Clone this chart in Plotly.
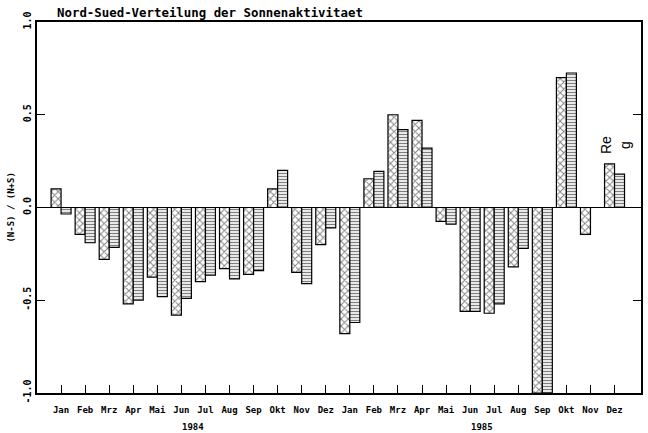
import plotly.graph_objects as go

# Monthly north-south asymmetry index (N-S)/(N+S), Jan 1984 .. Dec 1985
months = ["Jan", "Feb", "Mrz", "Apr", "Mai", "Jun", "Jul", "Aug", "Sep", "Okt", "Nov", "Dez"]
years = ["1984", "1985"]
month_labels = months + months

series_a = [0.10, -0.145, -0.28, -0.52, -0.375, -0.58, -0.40, -0.33, -0.36, 0.10, -0.35, -0.20,
            -0.68, 0.155, 0.50, 0.47, -0.075, -0.56, -0.57, -0.32, -1.0, 0.70, -0.145, 0.235]
series_b = [-0.035, -0.19, -0.215, -0.50, -0.48, -0.49, -0.365, -0.385, -0.34, 0.20, -0.41, -0.11,
            -0.62, 0.195, 0.42, 0.32, -0.09, -0.56, -0.52, -0.22, -1.0, 0.725, None, 0.18]

y_ticks = [-1.0, -0.5, 0.0, 0.5, 1.0]
y_ticktext = ["-1.0", "-0.5", "0.0", "0.5", "1.0"]

x_idx = list(range(len(month_labels)))

mono = dict(family="DejaVu Sans Mono", color="black", weight="bold")

fig = go.Figure()
fig.add_trace(go.Bar(
    x=x_idx, y=series_a, name="Serie 1",
    marker=dict(color="white", line=dict(color="black", width=1.2),
                pattern=dict(shape="x", fgcolor="black", bgcolor="white", size=5, solidity=0.35)),
))
fig.add_trace(go.Bar(
    x=x_idx, y=series_b, name="Serie 2",
    marker=dict(color="white", line=dict(color="black", width=1.2),
                pattern=dict(shape="-", fgcolor="black", bgcolor="white", size=3, solidity=0.45)),
))

fig.update_layout(
    width=648, height=433,
    margin=dict(l=37, r=5, t=22, b=40),
    paper_bgcolor="white", plot_bgcolor="white",
    barmode="group", bargap=0.17, bargroupgap=0.0,
    showlegend=False,
    xaxis=dict(
        range=[-1, 24.1],
        tickmode="array", tickvals=x_idx, ticktext=month_labels,
        ticks="inside", ticklen=8, tickwidth=1.2, tickcolor="black",
        showline=True, linecolor="black", linewidth=1.5, mirror=True,
        showgrid=False, zeroline=False,
        tickfont=dict(size=9, **mono),
        tickangle=0,
        ticklabelstandoff=7,
    ),
    yaxis=dict(
        range=[-1.0, 1.0],
        tickmode="array", tickvals=y_ticks, ticktext=y_ticktext,
        ticks="inside", ticklen=8, tickwidth=1.2, tickcolor="black",
        showline=True, linecolor="black", linewidth=1.5, mirror="ticks",
        showgrid=False,
        zeroline=True, zerolinecolor="black", zerolinewidth=1.2,
        tickangle=-90,
        tickfont=dict(size=10, **mono),
    ),
)

# title
fig.add_annotation(
    text="Nord-Sued-Verteilung der Sonnenaktivitaet",
    xref="paper", yref="paper", x=(55 - 37) / 606, y=1.0, yshift=10,
    xanchor="left", yanchor="middle", showarrow=False,
    font=dict(size=12.4, **mono),
)

# y-axis label
fig.add_annotation(
    text="(N-S) / (N+S)",
    xref="paper", yref="y", x=(10 - 37) / 606, y=0.0,
    xanchor="center", yanchor="middle", textangle=-90, showarrow=False,
    font=dict(size=9, **mono),
)

# year labels under each block of months
for i, yr in enumerate(years):
    fig.add_annotation(
        text=yr, xref="x", yref="paper", x=i * 12 + 5.5, y=0, yshift=-34,
        xanchor="center", yanchor="middle", showarrow=False,
        font=dict(size=9, **mono),
    )

# marker near the last month
fig.add_annotation(
    text="Re<br>g", xref="x", yref="y", x=23.05, y=0.335,
    xanchor="center", yanchor="middle", textangle=-90, showarrow=False,
    font=dict(size=14, family="Liberation Sans", color="black"),
)

fig.write_html("out.html")
